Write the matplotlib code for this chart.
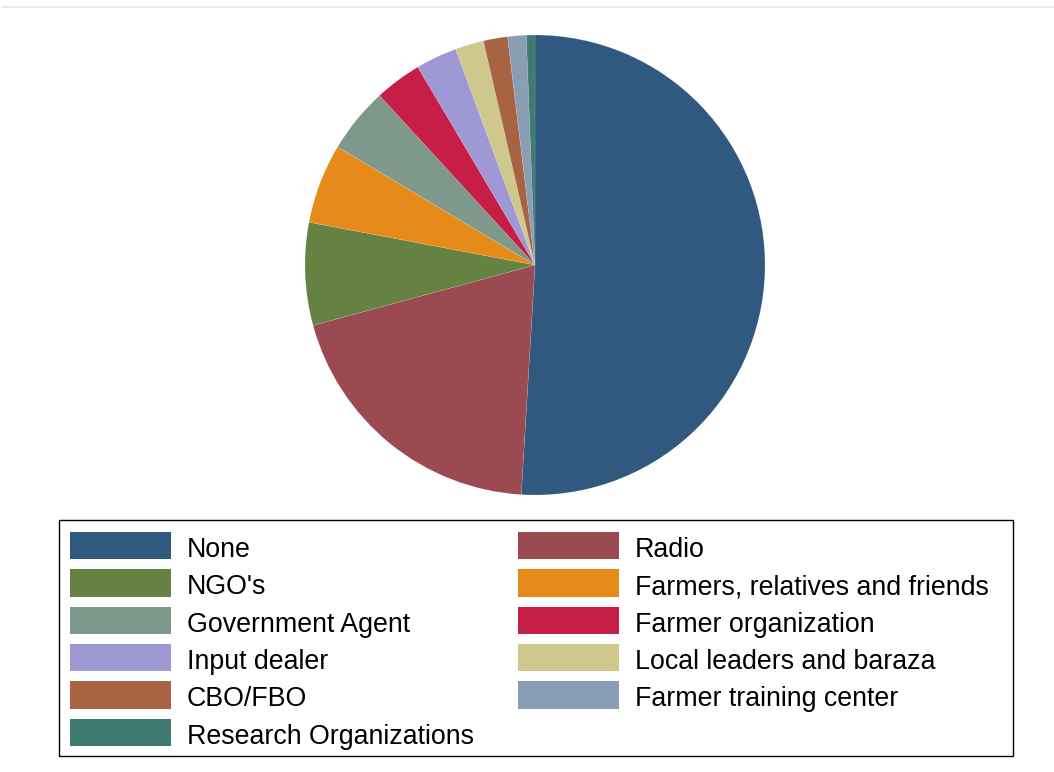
import matplotlib
matplotlib.use("Agg")
import matplotlib.pyplot as plt
from matplotlib.patches import Rectangle

plt.rcParams['font.family'] = ['Liberation Sans', 'DejaVu Sans']

# Sources of agricultural information (share of respondents, %)
sources = ["None", "Radio", "NGO's", "Farmers, relatives and friends",
           "Government Agent", "Farmer organization", "Input dealer",
           "Local leaders and baraza", "CBO/FBO", "Farmer training center",
           "Research Organizations"]
shares = [50.9, 19.8, 7.2, 5.6, 4.6, 3.3, 2.9, 2.0, 1.7, 1.3, 0.6]
colors = ["#31587E", "#9A4A50", "#668243", "#E68A19", "#7E988C", "#C61E46",
          "#9E98D4", "#CEC88C", "#A86343", "#899DB4", "#407A70"]

W, H = 1054, 772
fig = plt.figure(figsize=(W / 100, H / 100), dpi=100)

# pie area: centre (535, 265) px, radius 230 px
cx, cy, r = 535, 265, 230
ax = fig.add_axes([(cx - r) / W, (H - cy - r) / H, 2 * r / W, 2 * r / H])
ax.pie(shares, colors=colors, startangle=90, counterclock=False,
       radius=1.0, wedgeprops=dict(linewidth=0.4, edgecolor="#ffffff30"))
ax.set_xlim(-1, 1)
ax.set_ylim(-1, 1)
ax.set_aspect("equal")
ax.axis("off")

# overlay in pixel coordinates for the legend and top rule
ov = fig.add_axes([0, 0, 1, 1], zorder=5)
ov.set_xlim(0, W)
ov.set_ylim(H, 0)
ov.axis("off")
ov.patch.set_alpha(0)

ov.plot([3, W], [7, 7], color="#e8e8e8", lw=1.2)

# legend frame
ov.add_patch(Rectangle((59, 520), 1013 - 59, 756 - 520, fill=False,
                       edgecolor="black", lw=1.0))

col_x = [69.5, 517.5]
row_y0, row_dy = 545.5, 37.4
box_w, box_h = 101, 27.5
for i, (lab, c) in enumerate(zip(sources, colors)):
    col, row = i % 2, i // 2
    x0 = col_x[col]
    yc = row_y0 + row * row_dy
    ov.add_patch(Rectangle((x0, yc - box_h / 2), box_w, box_h,
                           facecolor=c, edgecolor="none"))
    ov.text(x0 + 117.5, yc + 11.2, lab, fontsize=19.3, va="baseline",
            ha="left", color="black")

fig.savefig("out.png", dpi=100, facecolor="white")
